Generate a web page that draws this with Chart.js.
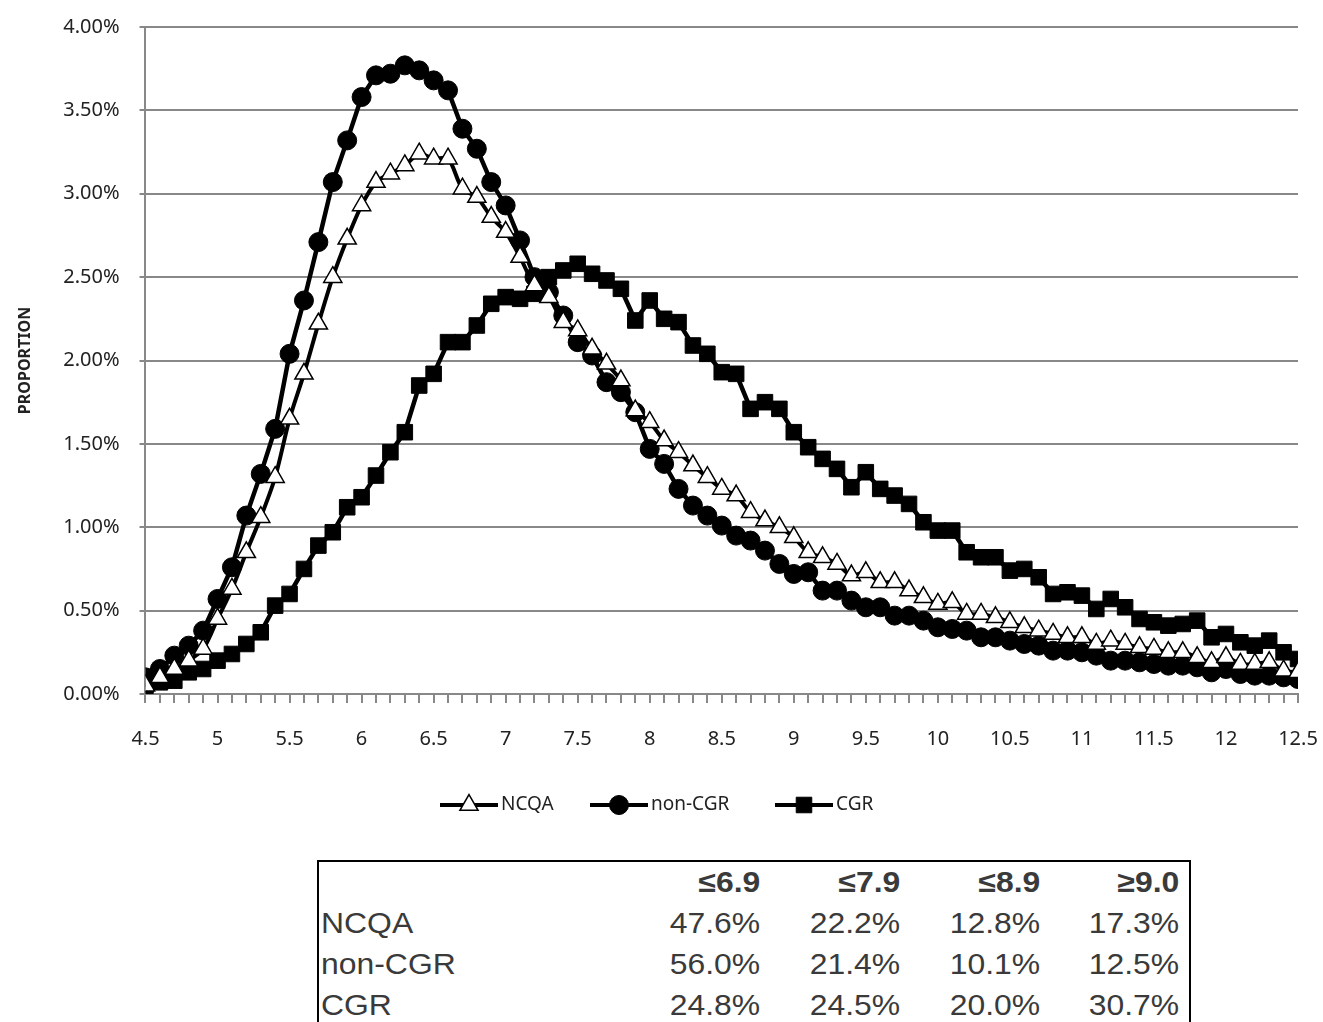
<!DOCTYPE html>
<html>
<head>
<meta charset="utf-8">
<script src="https://cdn.jsdelivr.net/npm/chart.js@4.4.1/dist/chart.umd.min.js"></script>
<style>
  body { margin: 0; background: #fff; }
  #wrap { position: relative; width: 1323px; height: 1022px; overflow: hidden; }
  #chartBox { position: absolute; left: 0; top: 0; width: 1323px; height: 850px; }
  #tbl { position: absolute; left: 317px; top: 860px; width: 872px; border: 2px solid #000; border-bottom: none;
         border-collapse: collapse; table-layout: fixed; font-family: "Liberation Sans", Arial, sans-serif;
         font-size: 29px; color: #3a3a3a; }
  #tbl td { padding: 0 10px 0 0; height: 41px; text-align: right; white-space: nowrap; overflow: visible; }
  #tbl td span { display: inline-block; transform: scaleX(1.1); transform-origin: right center; }
  #tbl td:first-child { text-align: left; padding: 0 0 0 2px; }
  #tbl td:first-child span { transform-origin: left center; }
  #tbl tr.hd td { font-weight: bold; }
</style>
</head>
<body>
<div id="wrap">
  <div id="chartBox"><canvas id="myChart"></canvas></div>
  <table id="tbl">
    <colgroup><col style="width:312px"><col style="width:140px"><col style="width:140px"><col style="width:140px"><col style="width:140px"></colgroup>
  </table>
</div>
<script>
// x = 4.5 .. 12.5 by 0.1
var xValues = [4.5,4.6,4.7,4.8,4.9,5.0,5.1,5.2,5.3,5.4,5.5,5.6,5.7,5.8,5.9,6.0,6.1,6.2,6.3,6.4,6.5,6.6,6.7,6.8,6.9,
  7.0,7.1,7.2,7.3,7.4,7.5,7.6,7.7,7.8,7.9,8.0,8.1,8.2,8.3,8.4,8.5,8.6,8.7,8.8,8.9,9.0,9.1,9.2,9.3,9.4,9.5,9.6,9.7,9.8,9.9,
  10.0,10.1,10.2,10.3,10.4,10.5,10.6,10.7,10.8,10.9,11.0,11.1,11.2,11.3,11.4,11.5,11.6,11.7,11.8,11.9,12.0,12.1,12.2,12.3,12.4,12.5];

var ncqa = [0.05,0.10,0.15,0.20,0.27,0.45,0.63,0.85,1.06,1.30,1.65,1.92,2.22,2.50,2.73,2.93,3.07,3.12,3.17,3.24,3.21,3.21,3.03,2.98,2.86,
  2.77,2.62,2.45,2.38,2.23,2.18,2.07,1.98,1.88,1.70,1.63,1.52,1.45,1.37,1.30,1.23,1.19,1.09,1.04,1.00,0.94,0.85,0.82,0.78,0.71,0.73,0.67,0.67,0.62,0.58,
  0.54,0.55,0.48,0.48,0.46,0.43,0.40,0.38,0.36,0.34,0.34,0.30,0.32,0.30,0.28,0.27,0.25,0.25,0.22,0.19,0.22,0.18,0.18,0.19,0.14,0.13];

var nonCgr = [0.10,0.15,0.23,0.29,0.38,0.57,0.76,1.07,1.32,1.59,2.04,2.36,2.71,3.07,3.32,3.58,3.71,3.72,3.77,3.74,3.68,3.62,3.39,3.27,3.07,
  2.93,2.72,2.50,2.41,2.27,2.11,2.03,1.87,1.81,1.69,1.47,1.38,1.23,1.13,1.07,1.01,0.95,0.92,0.86,0.78,0.72,0.73,0.62,0.62,0.56,0.52,0.52,0.47,0.47,0.44,
  0.40,0.39,0.38,0.34,0.34,0.32,0.30,0.29,0.26,0.26,0.25,0.23,0.20,0.20,0.19,0.18,0.17,0.17,0.16,0.13,0.15,0.12,0.11,0.11,0.10,0.09];

var cgr = [0.05,0.07,0.08,0.13,0.15,0.20,0.24,0.30,0.37,0.53,0.60,0.75,0.89,0.97,1.12,1.18,1.31,1.45,1.57,1.85,1.92,2.11,2.11,2.21,2.34,
  2.38,2.37,2.40,2.50,2.54,2.58,2.52,2.48,2.43,2.24,2.36,2.25,2.23,2.09,2.04,1.93,1.92,1.71,1.75,1.71,1.57,1.48,1.41,1.35,1.24,1.33,1.23,1.19,1.14,1.03,
  0.98,0.98,0.85,0.82,0.82,0.74,0.75,0.70,0.60,0.61,0.59,0.51,0.57,0.52,0.45,0.43,0.41,0.42,0.44,0.34,0.36,0.31,0.29,0.32,0.25,0.21];

// table below the chart
var tblHead = ["", "\u22646.9", "\u22647.9", "\u22648.9", "\u22659.0"];
var tblRows = [
  ["NCQA", "47.6%", "22.2%", "12.8%", "17.3%"],
  ["non-CGR", "56.0%", "21.4%", "10.1%", "12.5%"],
  ["CGR", "24.8%", "24.5%", "20.0%", "30.7%"]
];

function pts(arr) {
  return arr.map(function (v, i) { return {x: xValues[i], y: v}; });
}

var tbl = document.getElementById('tbl');
var h = '<tr class="hd">' + tblHead.map(function (c) { return '<td><span>' + c + '</span></td>'; }).join('') + '</tr>';
tblRows.forEach(function (r) {
  h += '<tr>' + r.map(function (c) { return '<td><span>' + c + '</span></td>'; }).join('') + '</tr>';
});
tbl.insertAdjacentHTML('beforeend', h);

// legend: line with marker in the middle
var legendPlugin = {
  id: 'lineLegend',
  afterDraw: function (chart) {
    var ctx = chart.ctx;
    var items = chart.data.datasets;
    var y = 805;
    var starts = [440, 590, 775];
    ctx.save();
    ctx.font = '19px "Noto Sans"';
    ctx.textBaseline = 'middle';
    items.forEach(function (ds, i) {
      var x = starts[i];
      ctx.strokeStyle = '#000';
      ctx.lineWidth = 4;
      ctx.beginPath();
      ctx.moveTo(x, y);
      ctx.lineTo(x + 58, y);
      ctx.stroke();
      ctx.fillStyle = ds.pointBackgroundColor;
      ctx.strokeStyle = '#000';
      ctx.lineWidth = ds.pointBorderWidth;
      Chart.helpers.drawPoint(ctx, {pointStyle: ds.pointStyle, rotation: 0, radius: ds.pointRadius, borderWidth: ds.pointBorderWidth}, x + 29, y);
      ctx.fillStyle = '#222';
      ctx.fillText(ds.label, x + 61, y);
    });
    ctx.restore();
  }
};

// let the layout padding alone decide where the plot area sits
function noEdgePad(scale) {
  scale.paddingLeft = 0;
  scale.paddingRight = 0;
  scale.paddingTop = 0;
  scale.paddingBottom = 0;
}

var ctx = document.getElementById('myChart').getContext('2d');
var myChart = new Chart(ctx, {
  type: 'line',
  data: {
    datasets: [{
      label: 'NCQA',
      data: pts(ncqa),
      borderColor: '#000',
      borderWidth: 4,
      pointStyle: 'triangle',
      pointRadius: 10.5,
      pointBackgroundColor: '#fff',
      pointBorderColor: '#000',
      pointBorderWidth: 1.5,
      tension: 0.3
    }, {
      label: 'non-CGR',
      data: pts(nonCgr),
      borderColor: '#000',
      borderWidth: 4.5,
      pointStyle: 'circle',
      pointRadius: 9.5,
      pointBackgroundColor: '#000',
      pointBorderColor: '#000',
      pointBorderWidth: 1
    }, {
      label: 'CGR',
      data: pts(cgr),
      borderColor: '#000',
      borderWidth: 4.5,
      pointStyle: 'rect',
      pointRadius: 11,
      pointBackgroundColor: '#000',
      pointBorderColor: '#000',
      pointBorderWidth: 1
    }]
  },
  options: {
    responsive: true,
    maintainAspectRatio: false,
    animation: false,
    layout: {padding: {left: 12, right: 25, top: 27, bottom: 75}},
    plugins: {
      legend: {display: false},
      tooltip: {enabled: false}
    },
    scales: {
      x: {
        type: 'linear',
        min: 4.5,
        max: 12.5,
        afterFit: noEdgePad,
        ticks: {
          stepSize: 0.1,
          autoSkip: false,
          maxRotation: 0,
          padding: 24,
          color: '#222',
          font: {family: 'Noto Sans', size: 20},
          callback: function (v) {
            var t = Math.round(v * 10);
            if (t % 5 !== 0) return '';
            return (t / 10).toString();
          }
        },
        grid: {drawOnChartArea: false, tickLength: 9, color: '#888', lineWidth: 2},
        border: {color: '#888', width: 2}
      },
      y: {
        min: 0,
        max: 4,
        afterFit: noEdgePad,
        ticks: {
          stepSize: 0.5,
          padding: 20,
          color: '#222',
          font: {family: 'Noto Sans', size: 20},
          callback: function (v) { return v.toFixed(2) + '%'; }
        },
        grid: {color: '#888', lineWidth: 2, tickLength: 6},
        border: {color: '#888', width: 2},
        title: {
          display: true,
          text: 'PROPORTION',
          color: '#222',
          font: {family: 'Noto Sans', size: 16, weight: 'bold'},
          padding: {bottom: 8}
        }
      }
    }
  },
  plugins: [legendPlugin]
});
</script>
</body>
</html>
